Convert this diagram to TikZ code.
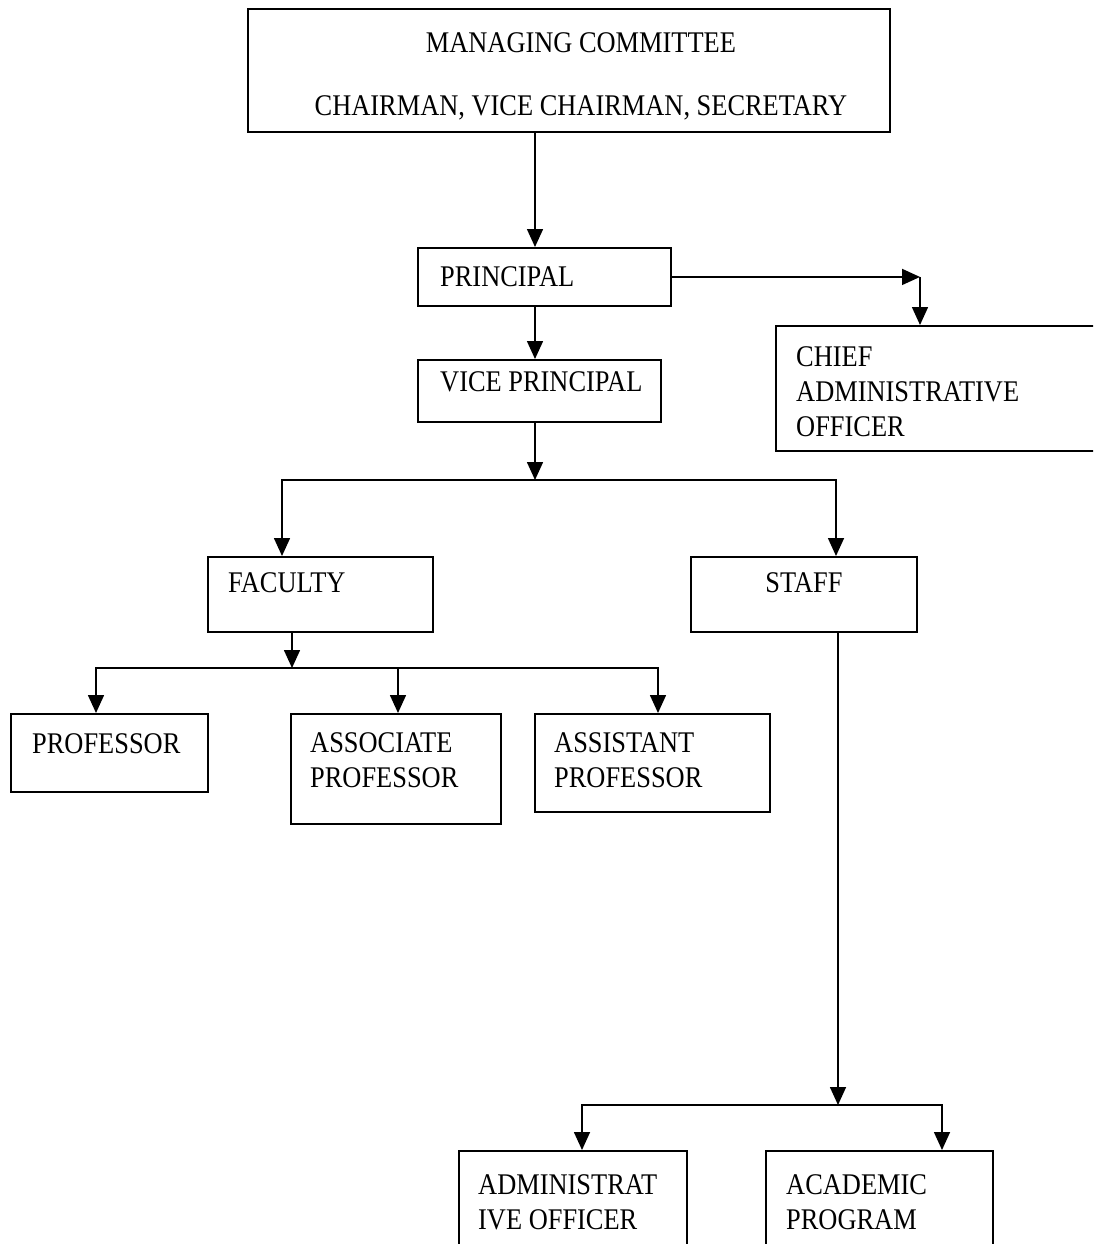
\documentclass[tikz,border=0pt]{standalone}
\usepackage{fontspec}
\setmainfont{Liberation Serif}[FakeStretch=0.88]
\usetikzlibrary{arrows.meta, positioning, calc}
\newcommand{\chartfont}{\fontsize{30}{35}\selectfont}

\begin{document}
\begin{tikzpicture}[
  x=1pt, y=-1pt,
  box/.style={draw, line width=1.9pt, anchor=north west, inner sep=0pt, fill=white},
  lbl/.style={inner sep=0pt, align=left, font=\chartfont},
  arrow/.style={-{Triangle[length=18pt, width=16pt]}, line width=1.6pt}
]
\useasboundingbox (0,0) rectangle (1093,1244);
\clip (0,0) rectangle (1093,1244);

% boxes
\node[box, minimum width=642, minimum height=123] (mc) at (247,8) {};
\node[box, minimum width=253, minimum height=58] (prin) at (417,247) {};
\node[box, minimum width=243, minimum height=62] (vice) at (417,359) {};
\node[box, minimum width=340, minimum height=125] (cao) at (775,325) {};
\node[box, minimum width=225, minimum height=75] (faculty) at (207,556) {};
\node[box, minimum width=226, minimum height=75] (staff) at (690,556) {};
\node[box, minimum width=197, minimum height=78] (prof) at (10,713) {};
\node[box, minimum width=210, minimum height=110] (assoc) at (290,713) {};
\node[box, minimum width=235, minimum height=98] (asst) at (534,713) {};
\node[box, minimum width=228, minimum height=120] (adm) at (458,1150) {};
\node[box, minimum width=227, minimum height=120] (acad) at (765,1150) {};

% texts
\node[lbl, align=center, below=24pt of mc.north, xshift=12pt] (mc-lbl)
  {MANAGING COMMITTEE\\[28pt]CHAIRMAN, VICE CHAIRMAN, SECRETARY};
\node[lbl, below right=19pt and 23pt of prin.north west] (prin-lbl) {PRINCIPAL};
\node[lbl, below right=12pt and 23pt of vice.north west] (vice-lbl) {VICE PRINCIPAL};
\node[lbl, below right=21pt and 21pt of cao.north west] (cao-lbl) {CHIEF\\ADMINISTRATIVE\\OFFICER};
\node[lbl, below right=16pt and 21pt of faculty.north west] (faculty-lbl) {FACULTY};
\node[lbl, below=16pt of staff.north] (staff-lbl) {STAFF};
\node[lbl, below right=20pt and 22pt of prof.north west] (prof-lbl) {PROFESSOR};
\node[lbl, below right=19pt and 20pt of assoc.north west] (assoc-lbl) {ASSOCIATE\\PROFESSOR};
\node[lbl, below right=19pt and 20pt of asst.north west] (asst-lbl) {ASSISTANT\\PROFESSOR};
\node[lbl, below right=24pt and 20pt of adm.north west] (adm-lbl) {ADMINISTRAT\\IVE OFFICER};
\node[lbl, below right=24pt and 21pt of acad.north west] (acad-lbl) {ACADEMIC\\PROGRAM};

% junction points
\coordinate (spine) at (535,0);
\coordinate (cao-drop) at (920,0);
\coordinate (vp-split) at (535,480);
\coordinate (fac-split) at (292,668);
\coordinate (staff-split) at (838,1105);
\coordinate (fac-in) at ($(faculty.north west)+(75,0)$);
\coordinate (staff-in) at ($(staff.north west)+(146,0)$);
\coordinate (prof-in) at ($(prof.north west)+(86,0)$);
\coordinate (assoc-in) at ($(assoc.north west)+(108,0)$);
\coordinate (asst-in) at ($(asst.north west)+(124,0)$);
\coordinate (adm-in) at ($(adm.north west)+(124,0)$);
\coordinate (acad-in) at ($(acad.north west)+(177,0)$);

% connectors
\draw[arrow] (spine |- mc.south) -- (spine |- prin.north);
\draw[arrow] (spine |- prin.south) -- (spine |- vice.north);
\draw[arrow] (prin.east) -- (prin.east -| cao-drop);
\draw[arrow] (prin.east -| cao-drop) -- (cao-drop |- cao.north);
\draw[arrow] (vice.south -| vp-split) -- (vp-split);
\draw[arrow] (vp-split) -| (fac-in);
\draw[arrow] (vp-split) -| (staff-in);
\draw[arrow] (faculty.south -| fac-split) -- (fac-split);
\draw[arrow] (fac-split) -| (prof-in);
\draw[arrow] (fac-split) -| (assoc-in);
\draw[arrow] (fac-split) -| (asst-in);
\draw[arrow] (staff.south -| staff-split) -- (staff-split);
\draw[arrow] (staff-split) -| (adm-in);
\draw[arrow] (staff-split) -| (acad-in);
\end{tikzpicture}
\end{document}
